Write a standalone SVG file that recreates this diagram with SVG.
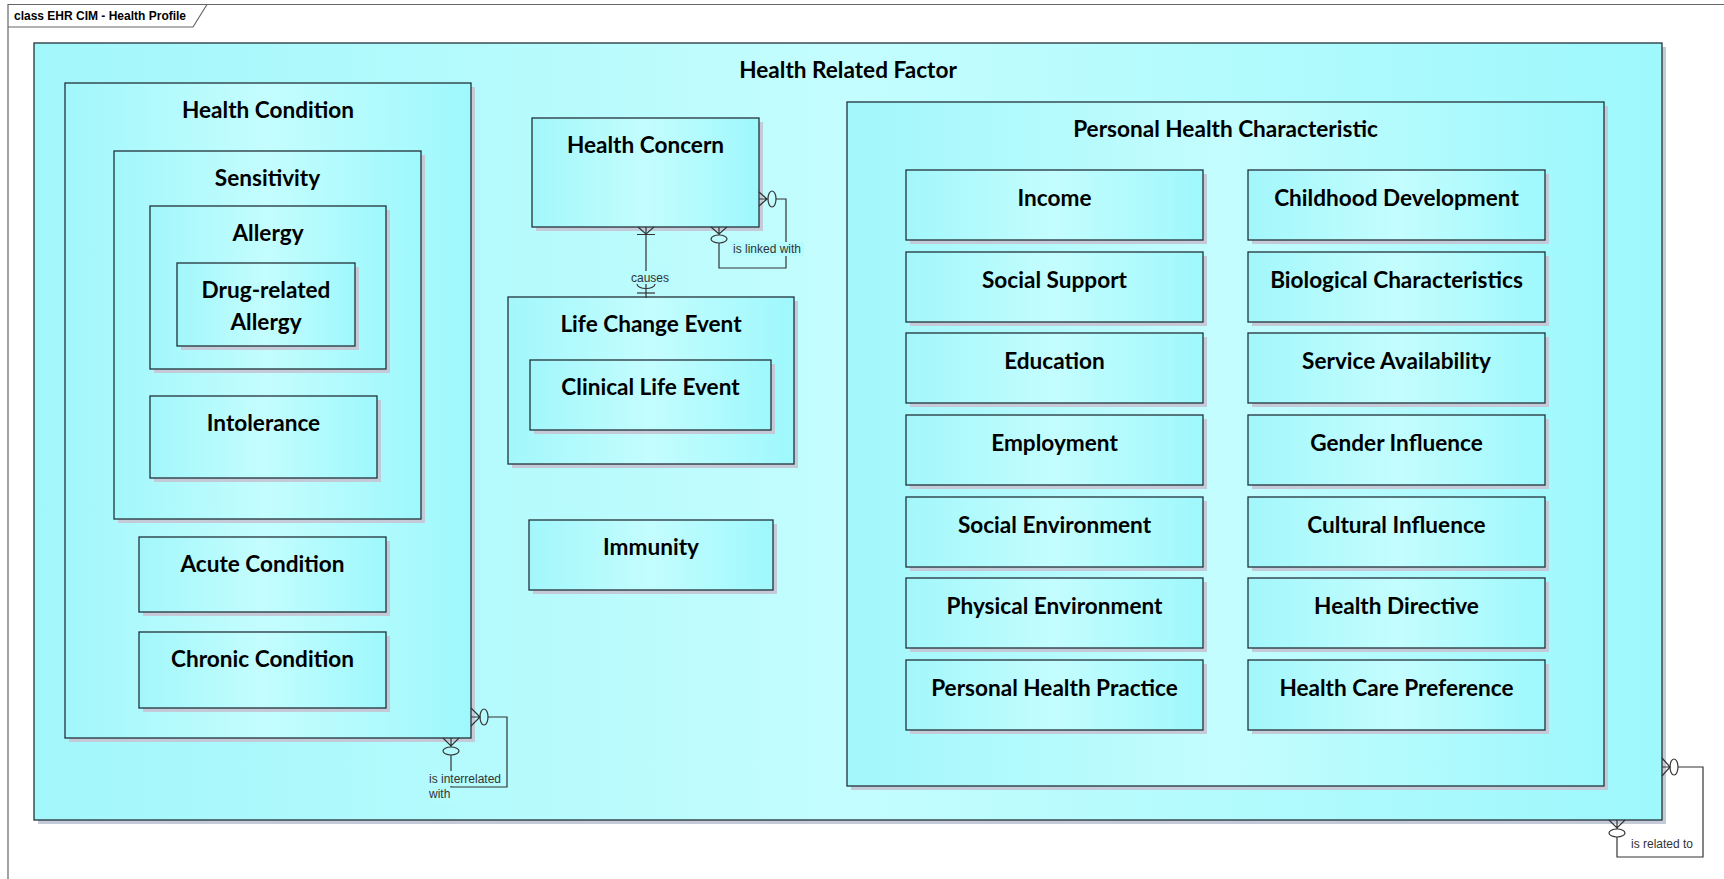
<svg xmlns="http://www.w3.org/2000/svg" width="1724" height="879" viewBox="0 0 1724 879">
<defs>
<linearGradient id="g" x1="0" y1="0" x2="1" y2="0">
<stop offset="0" stop-color="#a2f7fb"/>
<stop offset="0.5" stop-color="#c4fdfe"/>
<stop offset="1" stop-color="#9ef8fc"/>
</linearGradient>
<style>
.box{fill:url(#g);stroke:#22323a;stroke-width:1.3}
.sh{fill:#c4cad8}
.t{font-family:Lato,"Liberation Sans",sans-serif;font-weight:bold;font-size:22.6px;text-anchor:middle;fill:#000}
.lbl{font-family:"Liberation Sans",Arial,sans-serif;font-size:12px;fill:#333}
.lb{fill:#b6fbfd}
.c{stroke:#333;stroke-width:1.2;fill:none}
.frame{stroke:#666;stroke-width:1.2;fill:none}
</style>
</defs>
<rect width="1724" height="879" fill="#fff"/>
<g id="frame">
<path class="frame" d="M8,879 V4.5 H1724"/>
<path class="frame" d="M8,27 H193 L207,4.5"/>
<text x="14" y="20" style="font-family:'Liberation Sans',Arial,sans-serif;font-weight:bold;font-size:12px;fill:#000">class EHR CIM - Health Profile</text>
</g>
<g id="health-related-factor">
<rect class="sh" x="38" y="47" width="1628" height="777"/>
<rect class="box" x="34" y="43" width="1628" height="777"/>
<text class="t" x="848" y="78">Health Related Factor</text>
</g>
<g id="health-condition">
<rect class="sh" x="69" y="87" width="406" height="655"/>
<rect class="box" x="65" y="83" width="406" height="655"/>
<text class="t" x="268" y="118">Health Condition</text>
</g>
<g id="sensitivity">
<rect class="sh" x="118" y="155" width="307" height="368"/>
<rect class="box" x="114" y="151" width="307" height="368"/>
<text class="t" x="267.5" y="186">Sensitivity</text>
</g>
<g id="allergy">
<rect class="sh" x="154" y="210" width="236" height="163"/>
<rect class="box" x="150" y="206" width="236" height="163"/>
<text class="t" x="268" y="241">Allergy</text>
</g>
<g id="drug-related-allergy">
<rect class="sh" x="181" y="267" width="178" height="83"/>
<rect class="box" x="177" y="263" width="178" height="83"/>
<text class="t" x="266" y="298">Drug-related</text>
<text class="t" x="266" y="330">Allergy</text>
</g>
<g id="intolerance">
<rect class="sh" x="154" y="400" width="227" height="82"/>
<rect class="box" x="150" y="396" width="227" height="82"/>
<text class="t" x="263.5" y="431">Intolerance</text>
</g>
<g id="acute-condition">
<rect class="sh" x="143" y="541" width="247" height="75"/>
<rect class="box" x="139" y="537" width="247" height="75"/>
<text class="t" x="262.5" y="572">Acute Condition</text>
</g>
<g id="chronic-condition">
<rect class="sh" x="143" y="636" width="247" height="76"/>
<rect class="box" x="139" y="632" width="247" height="76"/>
<text class="t" x="262.5" y="667">Chronic Condition</text>
</g>
<g id="health-concern">
<rect class="sh" x="536" y="122" width="227" height="109"/>
<rect class="box" x="532" y="118" width="227" height="109"/>
<text class="t" x="645.5" y="153">Health Concern</text>
</g>
<g id="life-change-event">
<rect class="sh" x="512" y="301" width="286" height="167"/>
<rect class="box" x="508" y="297" width="286" height="167"/>
<text class="t" x="651" y="332">Life Change Event</text>
</g>
<g id="clinical-life-event">
<rect class="sh" x="534" y="364" width="241" height="70"/>
<rect class="box" x="530" y="360" width="241" height="70"/>
<text class="t" x="650.5" y="395">Clinical Life Event</text>
</g>
<g id="immunity">
<rect class="sh" x="533" y="524" width="244" height="70"/>
<rect class="box" x="529" y="520" width="244" height="70"/>
<text class="t" x="651" y="555">Immunity</text>
</g>
<g id="personal-health-characteristic">
<rect class="sh" x="851" y="106" width="757" height="684"/>
<rect class="box" x="847" y="102" width="757" height="684"/>
<text class="t" x="1225.5" y="137">Personal Health Characteristic</text>
</g>
<g id="income"><rect class="sh" x="910" y="174" width="297" height="70"/><rect class="box" x="906" y="170" width="297" height="70"/><text class="t" x="1054.5" y="206">Income</text></g>
<g id="social-support"><rect class="sh" x="910" y="256" width="297" height="70"/><rect class="box" x="906" y="252" width="297" height="70"/><text class="t" x="1054.5" y="288">Social Support</text></g>
<g id="education"><rect class="sh" x="910" y="337" width="297" height="70"/><rect class="box" x="906" y="333" width="297" height="70"/><text class="t" x="1054.5" y="369">Education</text></g>
<g id="employment"><rect class="sh" x="910" y="419" width="297" height="70"/><rect class="box" x="906" y="415" width="297" height="70"/><text class="t" x="1054.5" y="451">Employment</text></g>
<g id="social-environment"><rect class="sh" x="910" y="501" width="297" height="70"/><rect class="box" x="906" y="497" width="297" height="70"/><text class="t" x="1054.5" y="533">Social Environment</text></g>
<g id="physical-environment"><rect class="sh" x="910" y="582" width="297" height="70"/><rect class="box" x="906" y="578" width="297" height="70"/><text class="t" x="1054.5" y="614">Physical Environment</text></g>
<g id="personal-health-practice"><rect class="sh" x="910" y="664" width="297" height="70"/><rect class="box" x="906" y="660" width="297" height="70"/><text class="t" x="1054.5" y="696">Personal Health Practice</text></g>
<g id="childhood-development"><rect class="sh" x="1252" y="174" width="297" height="70"/><rect class="box" x="1248" y="170" width="297" height="70"/><text class="t" x="1396.5" y="206">Childhood Development</text></g>
<g id="biological-characteristics"><rect class="sh" x="1252" y="256" width="297" height="70"/><rect class="box" x="1248" y="252" width="297" height="70"/><text class="t" x="1396.5" y="288">Biological Characteristics</text></g>
<g id="service-availability"><rect class="sh" x="1252" y="337" width="297" height="70"/><rect class="box" x="1248" y="333" width="297" height="70"/><text class="t" x="1396.5" y="369">Service Availability</text></g>
<g id="gender-influence"><rect class="sh" x="1252" y="419" width="297" height="70"/><rect class="box" x="1248" y="415" width="297" height="70"/><text class="t" x="1396.5" y="451">Gender Influence</text></g>
<g id="cultural-influence"><rect class="sh" x="1252" y="501" width="297" height="70"/><rect class="box" x="1248" y="497" width="297" height="70"/><text class="t" x="1396.5" y="533">Cultural Influence</text></g>
<g id="health-directive"><rect class="sh" x="1252" y="582" width="297" height="70"/><rect class="box" x="1248" y="578" width="297" height="70"/><text class="t" x="1396.5" y="614">Health Directive</text></g>
<g id="health-care-preference"><rect class="sh" x="1252" y="664" width="297" height="70"/><rect class="box" x="1248" y="660" width="297" height="70"/><text class="t" x="1396.5" y="696">Health Care Preference</text></g>
<g id="connectors">
<path class="c" d="M646,227 V298"/>
<path class="c" d="M638,227 L646,234 L654,227 M637,234.5 H655"/>
<ellipse class="c" cx="646" cy="284" rx="9" ry="4.5"/>
<path class="c" d="M637,293 H655"/>
<rect class="lb" x="630" y="271" width="39" height="13"/>
<text class="lbl" x="631" y="282">causes</text>
<path class="c" d="M719,243 V268 H786 V199 H776"/>
<path class="c" d="M711,227 L719,234 L727,227 M719,227 V235"/>
<ellipse class="c" cx="719" cy="239" rx="8" ry="4"/>
<path class="c" d="M759,192 L767,199 L759,206 M759,199 H768"/>
<ellipse class="c" cx="772" cy="199" rx="4" ry="8"/>
<rect class="lb" x="732" y="242" width="72" height="14"/>
<text class="lbl" x="733" y="253">is linked with</text>
<path class="c" d="M488,717 H507 V787 H451 V755"/>
<path class="c" d="M471,708 L480,717 L471,726 M471,717 H480"/>
<ellipse class="c" cx="484" cy="717" rx="4" ry="8"/>
<path class="c" d="M443,738 L451,746 L459,738 M451,738 V747"/>
<ellipse class="c" cx="451" cy="751" rx="8" ry="4"/>
<rect class="lb" x="429" y="771" width="75" height="15"/>
<rect class="lb" x="429" y="789" width="31" height="12"/>
<text class="lbl" x="429" y="783">is interrelated</text>
<text class="lbl" x="429" y="798">with</text>
<path class="c" d="M1678,767 H1703 V857 H1617 V837"/>
<path class="c" d="M1662,758 L1670,767 L1662,776 M1662,767 H1670"/>
<ellipse class="c" cx="1674" cy="767" rx="4" ry="8"/>
<path class="c" d="M1609,820 L1617,828 L1625,820 M1617,820 V829"/>
<ellipse class="c" cx="1617" cy="833" rx="8" ry="4"/>
<text class="lbl" x="1631" y="848">is related to</text>
</g>
</svg>
